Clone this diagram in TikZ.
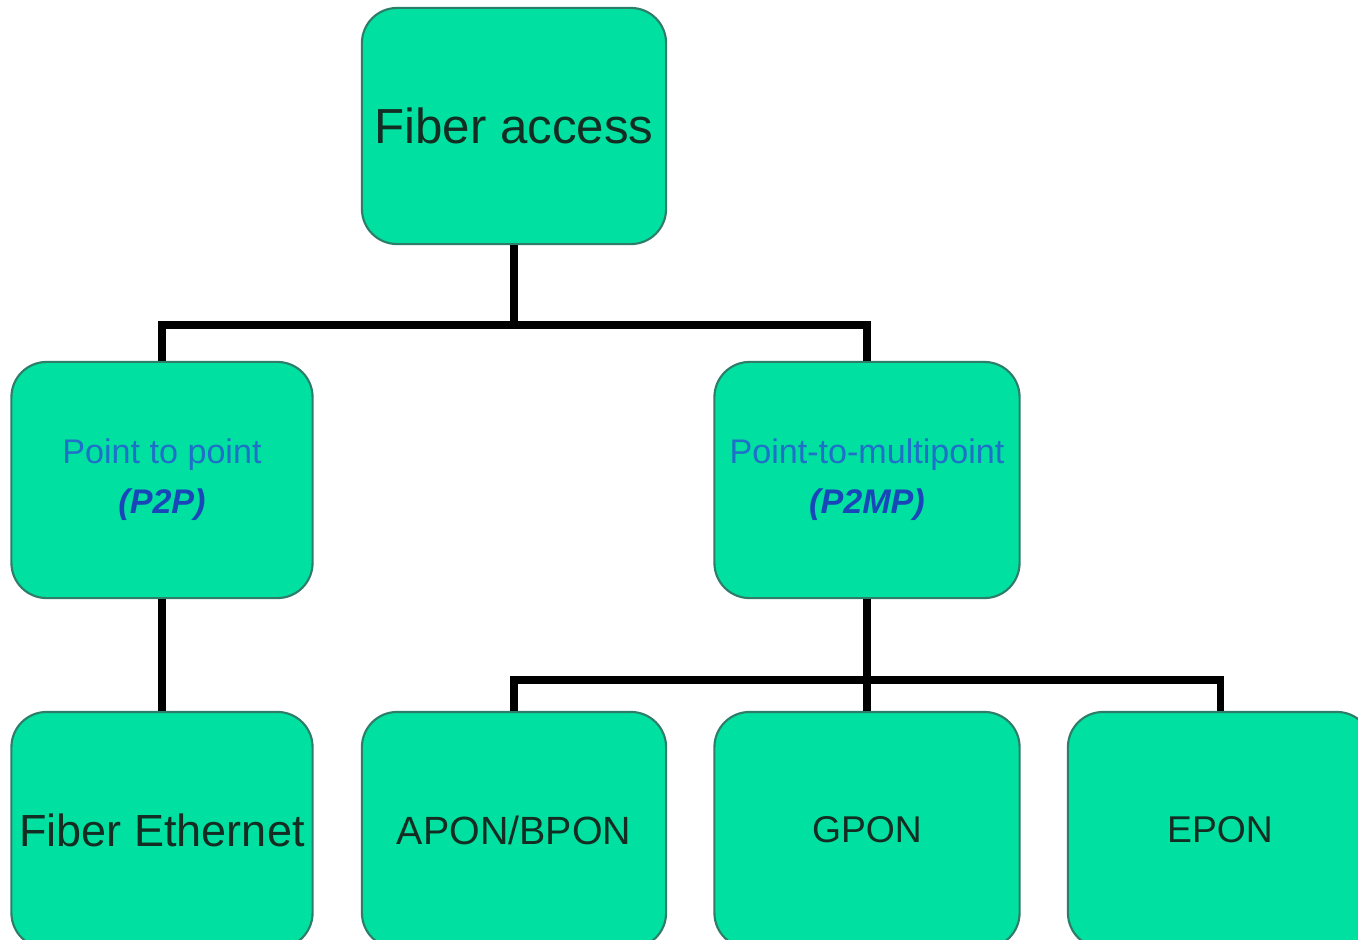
\documentclass[tikz,border=0pt]{standalone}
\usepackage{fontspec}
\setmainfont{Liberation Sans}
\definecolor{fiberfill}{RGB}{0,224,160}
\definecolor{fiberline}{RGB}{46,125,105}
\definecolor{fibertext}{RGB}{20,45,35}
\definecolor{fiberblue}{RGB}{30,112,200}
\definecolor{fiberdark}{RGB}{25,70,185}
\tikzset{
  fbox/.style={draw=fiberline,fill=fiberfill,line width=.6pt,rounded corners=10pt,
    minimum width=3.04cm,minimum height=2.36cm,inner sep=0pt,text=fibertext,align=center},
  ptext/.style={text=fiberblue,font=\fontsize{9.7}{14.2}\selectfont},
  link/.style={line width=2pt,black},
}
\begin{document}
\begin{tikzpicture}[x=0.01cm,y=-0.01cm]
\fill[white](0,0)rectangle(1358,939);
\clip(0,0)rectangle(1358,939);
\node[fbox,font=\fontsize{14}{17}\selectfont](access)at(514,126){Fiber access};
\node[fbox,ptext,minimum width=3.01cm](p2p)at(162,480){Point to point\\{\color{fiberdark}\bfseries\itshape(P2P)}};
\node[fbox,ptext,minimum width=3.05cm](p2mp)at(867,480){Point-to-multipoint\\{\color{fiberdark}\bfseries\itshape(P2MP)}};
\node[fbox,minimum width=3.01cm,font=\fontsize{12.8}{15}\selectfont](ether)at(162,830){Fiber Ethernet};
\node[fbox,font=\fontsize{11.2}{14}\selectfont](apon)at(514,830){APON/BPON};
\node[fbox,minimum width=3.05cm,font=\fontsize{10.6}{13}\selectfont](gpon)at(867,830){GPON};
\node[fbox,font=\fontsize{10.6}{13}\selectfont](epon)at(1220,830){EPON};
\coordinate(top)at(514,325);
\coordinate(split)at(867,680);
\draw[link](access.south)--(top);
\draw[link](p2p.north)|-(top)-|(p2mp.north);
\draw[link](p2p.south)--(ether.north);
\draw[link](p2mp.south)--(split);
\draw[link](apon.north)|-(split)-|(epon.north);
\draw[link](split)--(gpon.north);
\end{tikzpicture}
\end{document}
